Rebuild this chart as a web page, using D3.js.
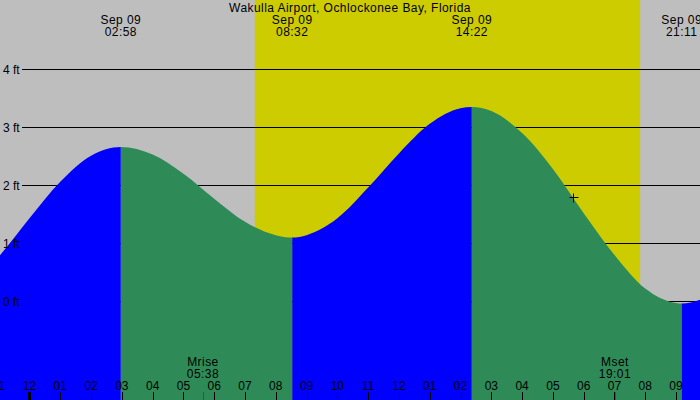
<!DOCTYPE html>
<html>
<head>
<meta charset="utf-8">
<script src="https://cdn.jsdelivr.net/npm/d3@7"></script>
<style>
  html, body { margin: 0; padding: 0; background: #fff; }
  svg { display: block; }
  text { font-family: "Liberation Sans", Arial, sans-serif; font-size: 12px; fill: #000; }
  text.sp { letter-spacing: 0.45px; }
</style>
</head>
<body>
<svg id="chart" width="700" height="400"></svg>
<script>
// ---------- data (hours are measured from Sep 09 00:00) ----------
const title = "Wakulla Airport, Ochlockonee Bay, Florida";
const extremeDate = "Sep 09";
const extremeTimes = ["02:58", "08:32", "14:22", "21:11"];
const extremeTypes = ["H", "L", "H", "L"];
const extremeHeights = [2.66, 1.10, 3.35, -0.04];

// tide height readings (ft) along the curve
const tideHours = [-2, -1, 0, 1, 2, 2.967, 4, 5, 6, 7, 8, 8.533, 9, 10, 11, 12, 13, 14, 14.367,
                   15, 16, 17, 18, 19, 20, 21, 21.183, 22];
const tideHeights = [0.25, 0.77, 1.43, 2.06, 2.51, 2.66, 2.53, 2.20, 1.77, 1.37, 1.14, 1.10, 1.14, 1.43, 1.96, 2.55, 3.06, 3.33, 3.35,
                     3.28, 2.90, 2.28, 1.52, 0.80, 0.22, -0.03, -0.04, 0.07];

const sunrise = "07:19";
const sunset = "19:50";
const moonLabels = ["Mrise", "Mset"];
const moonTimes = ["05:38", "19:01"];

const ftTicks = [0, 1, 2, 3, 4];
const ftLabels = ["0 ft", "1 ft", "2 ft", "3 ft", "4 ft"];
const hourTicks = [-1, 0, 1, 2, 3, 4, 5, 6, 7, 8, 9, 10, 11, 12, 13, 14, 15, 16, 17, 18, 19, 20, 21];
const hourLabels = ["11", "12", "01", "02", "03", "04", "05", "06", "07", "08", "09", "10",
                    "11", "12", "01", "02", "03", "04", "05", "06", "07", "08", "09"];
const nowHour = 17.66;
const nowHeight = 1.79;

(function () {
// ---------- helpers ----------
const toHours = s => { const [h, m] = s.split(":").map(Number); return h + m / 60; };

const W = 700, H = 400;
const svg = d3.select("#chart");

const x = d3.scaleLinear().domain([-0.958, 21.778]).range([0, W]);
const y = d3.scaleLinear().domain([0, 4]).range([301.3, 69.3]);

// background: night grey, day yellow
svg.append("rect").attr("x", 0).attr("y", 0).attr("width", W).attr("height", H).attr("fill", "#bebebe");
svg.append("rect")
  .attr("x", x(toHours(sunrise))).attr("y", 0)
  .attr("width", x(toHours(sunset)) - x(toHours(sunrise))).attr("height", H)
  .attr("fill", "#cccc00");

// grid lines
svg.append("g").selectAll("line").data(ftTicks).join("line")
  .attr("x1", 22).attr("x2", W)
  .attr("y1", d => Math.round(y(d)) + 0.5).attr("y2", d => Math.round(y(d)) + 0.5)
  .attr("stroke", "#000").attr("stroke-width", 1);

// tide area, coloured by rising (blue) / falling (green)
const tide = tideHours.map((t, i) => ({ t, h: tideHeights[i] }));
const area = d3.area().x(d => x(d.t)).y0(H).y1(d => y(d.h)).curve(d3.curveMonotoneX);

const exHours = extremeTimes.map(toHours);
const bounds = [x.domain()[0] - 2, ...exHours, x.domain()[1] + 2];
const defs = svg.append("defs");
for (let k = 0; k < bounds.length - 1; k++) {
  const rising = k < extremeTypes.length ? extremeTypes[k] === "H" : extremeTypes[k - 1] === "L";
  const id = "clip" + k;
  defs.append("clipPath").attr("id", id).append("rect")
    .attr("x", x(bounds[k])).attr("y", 0)
    .attr("width", x(bounds[k + 1]) - x(bounds[k])).attr("height", H);
  svg.append("path").datum(tide)
    .attr("d", area)
    .attr("clip-path", `url(#${id})`)
    .attr("fill", rising ? "#0000ff" : "#2e8b57");
}

// ft labels
svg.append("g").selectAll("text").data(ftTicks).join("text")
  .attr("x", 3).attr("y", d => y(d) + 4.5)
  .text((d, i) => ftLabels[i]);

// title
svg.append("text").attr("class", "sp").attr("x", W / 2).attr("y", 12).attr("text-anchor", "middle").text(title);

// extreme labels at top
const topG = svg.append("g").selectAll("g").data(exHours).join("g");
topG.append("text").attr("class", "sp").attr("x", d => x(d)).attr("y", 24).attr("text-anchor", "middle").text(extremeDate);
topG.append("text").attr("class", "sp").attr("x", d => x(d)).attr("y", 36).attr("text-anchor", "middle").text((d, i) => extremeTimes[i]);

// hour ticks and labels
const ticks = svg.append("g");
ticks.selectAll("line").data(hourTicks).join("line")
  .attr("x1", d => Math.round(x(d)) + 0.5).attr("x2", d => Math.round(x(d)) + 0.5)
  .attr("y1", 392).attr("y2", H)
  .attr("stroke", "#000")
  .attr("stroke-width", d => d === 0 ? 3 : 1);
ticks.selectAll("text").data(hourTicks).join("text")
  .attr("x", d => x(d)).attr("y", 389.5).attr("text-anchor", "middle")
  .text((d, i) => hourLabels[i]);

// moon events
const moon = svg.append("g").selectAll("g").data(moonTimes.map(toHours)).join("g");
moon.append("line")
  .attr("x1", d => Math.round(x(d)) + 0.5).attr("x2", d => Math.round(x(d)) + 0.5)
  .attr("y1", 392).attr("y2", H).attr("stroke", "#ff0000");
moon.append("text").attr("class", "sp").attr("x", d => x(d)).attr("y", 366).attr("text-anchor", "middle").text((d, i) => moonLabels[i]);
moon.append("text").attr("class", "sp").attr("x", d => x(d)).attr("y", 377.5).attr("text-anchor", "middle").text((d, i) => moonTimes[i]);

// current-time cross marker
const cx = Math.round(x(nowHour)) + 0.5, cy = Math.round(y(nowHeight)) + 0.5;
svg.append("line").attr("x1", cx - 4).attr("x2", cx + 5).attr("y1", cy).attr("y2", cy).attr("stroke", "#000");
svg.append("line").attr("x1", cx).attr("x2", cx).attr("y1", cy - 4).attr("y2", cy + 5).attr("stroke", "#000");
})();
</script>
</body>
</html>
